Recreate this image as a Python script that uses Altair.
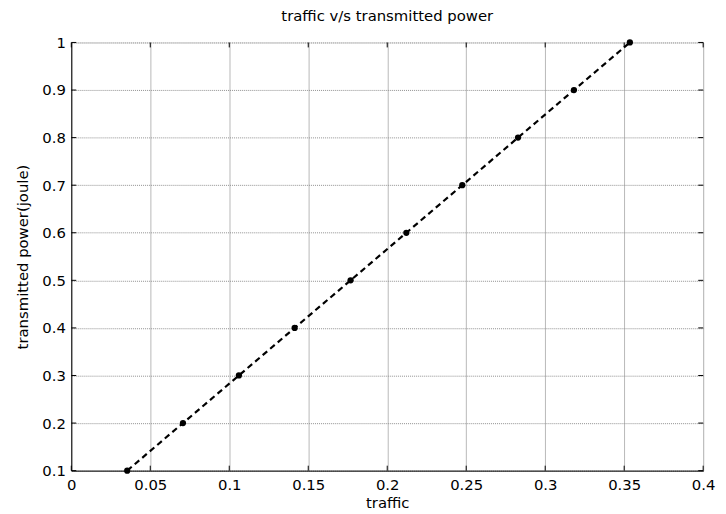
import altair as alt
import pandas as pd

traffic = [0.0354, 0.0707, 0.1061, 0.1414, 0.1768, 0.2121, 0.2475, 0.2828, 0.3182, 0.3536]
power = [0.1, 0.2, 0.3, 0.4, 0.5, 0.6, 0.7, 0.8, 0.9, 1.0]
x_ticks = [0, 0.05, 0.1, 0.15, 0.2, 0.25, 0.3, 0.35, 0.4]
y_ticks = [0.1, 0.2, 0.3, 0.4, 0.5, 0.6, 0.7, 0.8, 0.9, 1.0]

df = pd.DataFrame({"traffic": traffic, "power": power})
dx = pd.DataFrame({"t": x_ticks})
dy = pd.DataFrame({"t": y_ticks})

W, H = 639, 433
FONT = "DejaVu Sans"
FS = 15

xs = alt.Scale(domain=[0, 0.4], nice=False, zero=False)
ys = alt.Scale(domain=[0.1, 1.0], nice=False, zero=False)

xaxis = alt.Axis(values=x_ticks, format="~g", title="traffic", ticks=False, grid=True,
                 gridColor="#b8b8b8", gridWidth=1, labelPadding=7,
                 labelFont=FONT, labelFontSize=FS, labelColor="black",
                 titleFont=FONT, titleFontSize=FS, titleFontWeight="normal",
                 titleColor="black", titlePadding=3, domainColor="black",
                 labelFlush=False, labelOverlap=False)
yaxis = alt.Axis(values=y_ticks, format="~g", title="transmitted power(joule)", ticks=False,
                 grid=True, gridColor="#909090", gridDash=[1, 1], gridWidth=1,
                 labelPadding=6, labelFont=FONT, labelFontSize=FS,
                 labelColor="black", titleFont=FONT, titleFontSize=FS,
                 titleFontWeight="normal", titleColor="black", titlePadding=11,
                 domainColor="black", labelFlush=False, labelOverlap=False)

line = alt.Chart(df).mark_line(color="black", strokeWidth=2.2, strokeDash=[6, 4]).encode(
    x=alt.X("traffic:Q", scale=xs, axis=xaxis),
    y=alt.Y("power:Q", scale=ys, axis=yaxis),
)
pts = alt.Chart(df).mark_circle(color="black", size=40, opacity=1).encode(
    x=alt.X("traffic:Q", scale=xs),
    y=alt.Y("power:Q", scale=ys),
)

tk = 5
xt_bot = alt.Chart(dx).mark_rule(color="black", strokeWidth=1).encode(
    x=alt.X("t:Q", scale=xs), y=alt.value(H), y2=alt.value(H - tk))
xt_top = alt.Chart(dx).mark_rule(color="black", strokeWidth=1).encode(
    x=alt.X("t:Q", scale=xs), y=alt.value(0), y2=alt.value(tk))
yt_left = alt.Chart(dy).mark_rule(color="black", strokeWidth=1).encode(
    y=alt.Y("t:Q", scale=ys), x=alt.value(0), x2=alt.value(tk))
yt_right = alt.Chart(dy).mark_rule(color="black", strokeWidth=1).encode(
    y=alt.Y("t:Q", scale=ys), x=alt.value(W), x2=alt.value(W - tk))

chart = alt.layer(line, pts, xt_bot, xt_top, yt_left, yt_right).properties(
    width=W, height=H,
    title=alt.TitleParams("traffic v/s transmitted power", font=FONT, fontSize=FS,
                          fontWeight="normal", color="black", offset=12, anchor="middle"),
    padding={"left": 64, "top": 32, "right": 15, "bottom": 41},
    autosize=alt.AutoSizeParams(type="none"),
).configure_view(stroke="black", strokeWidth=1).configure(background="white")

chart.save("out.html", embed_options={"renderer": "svg", "actions": False})
